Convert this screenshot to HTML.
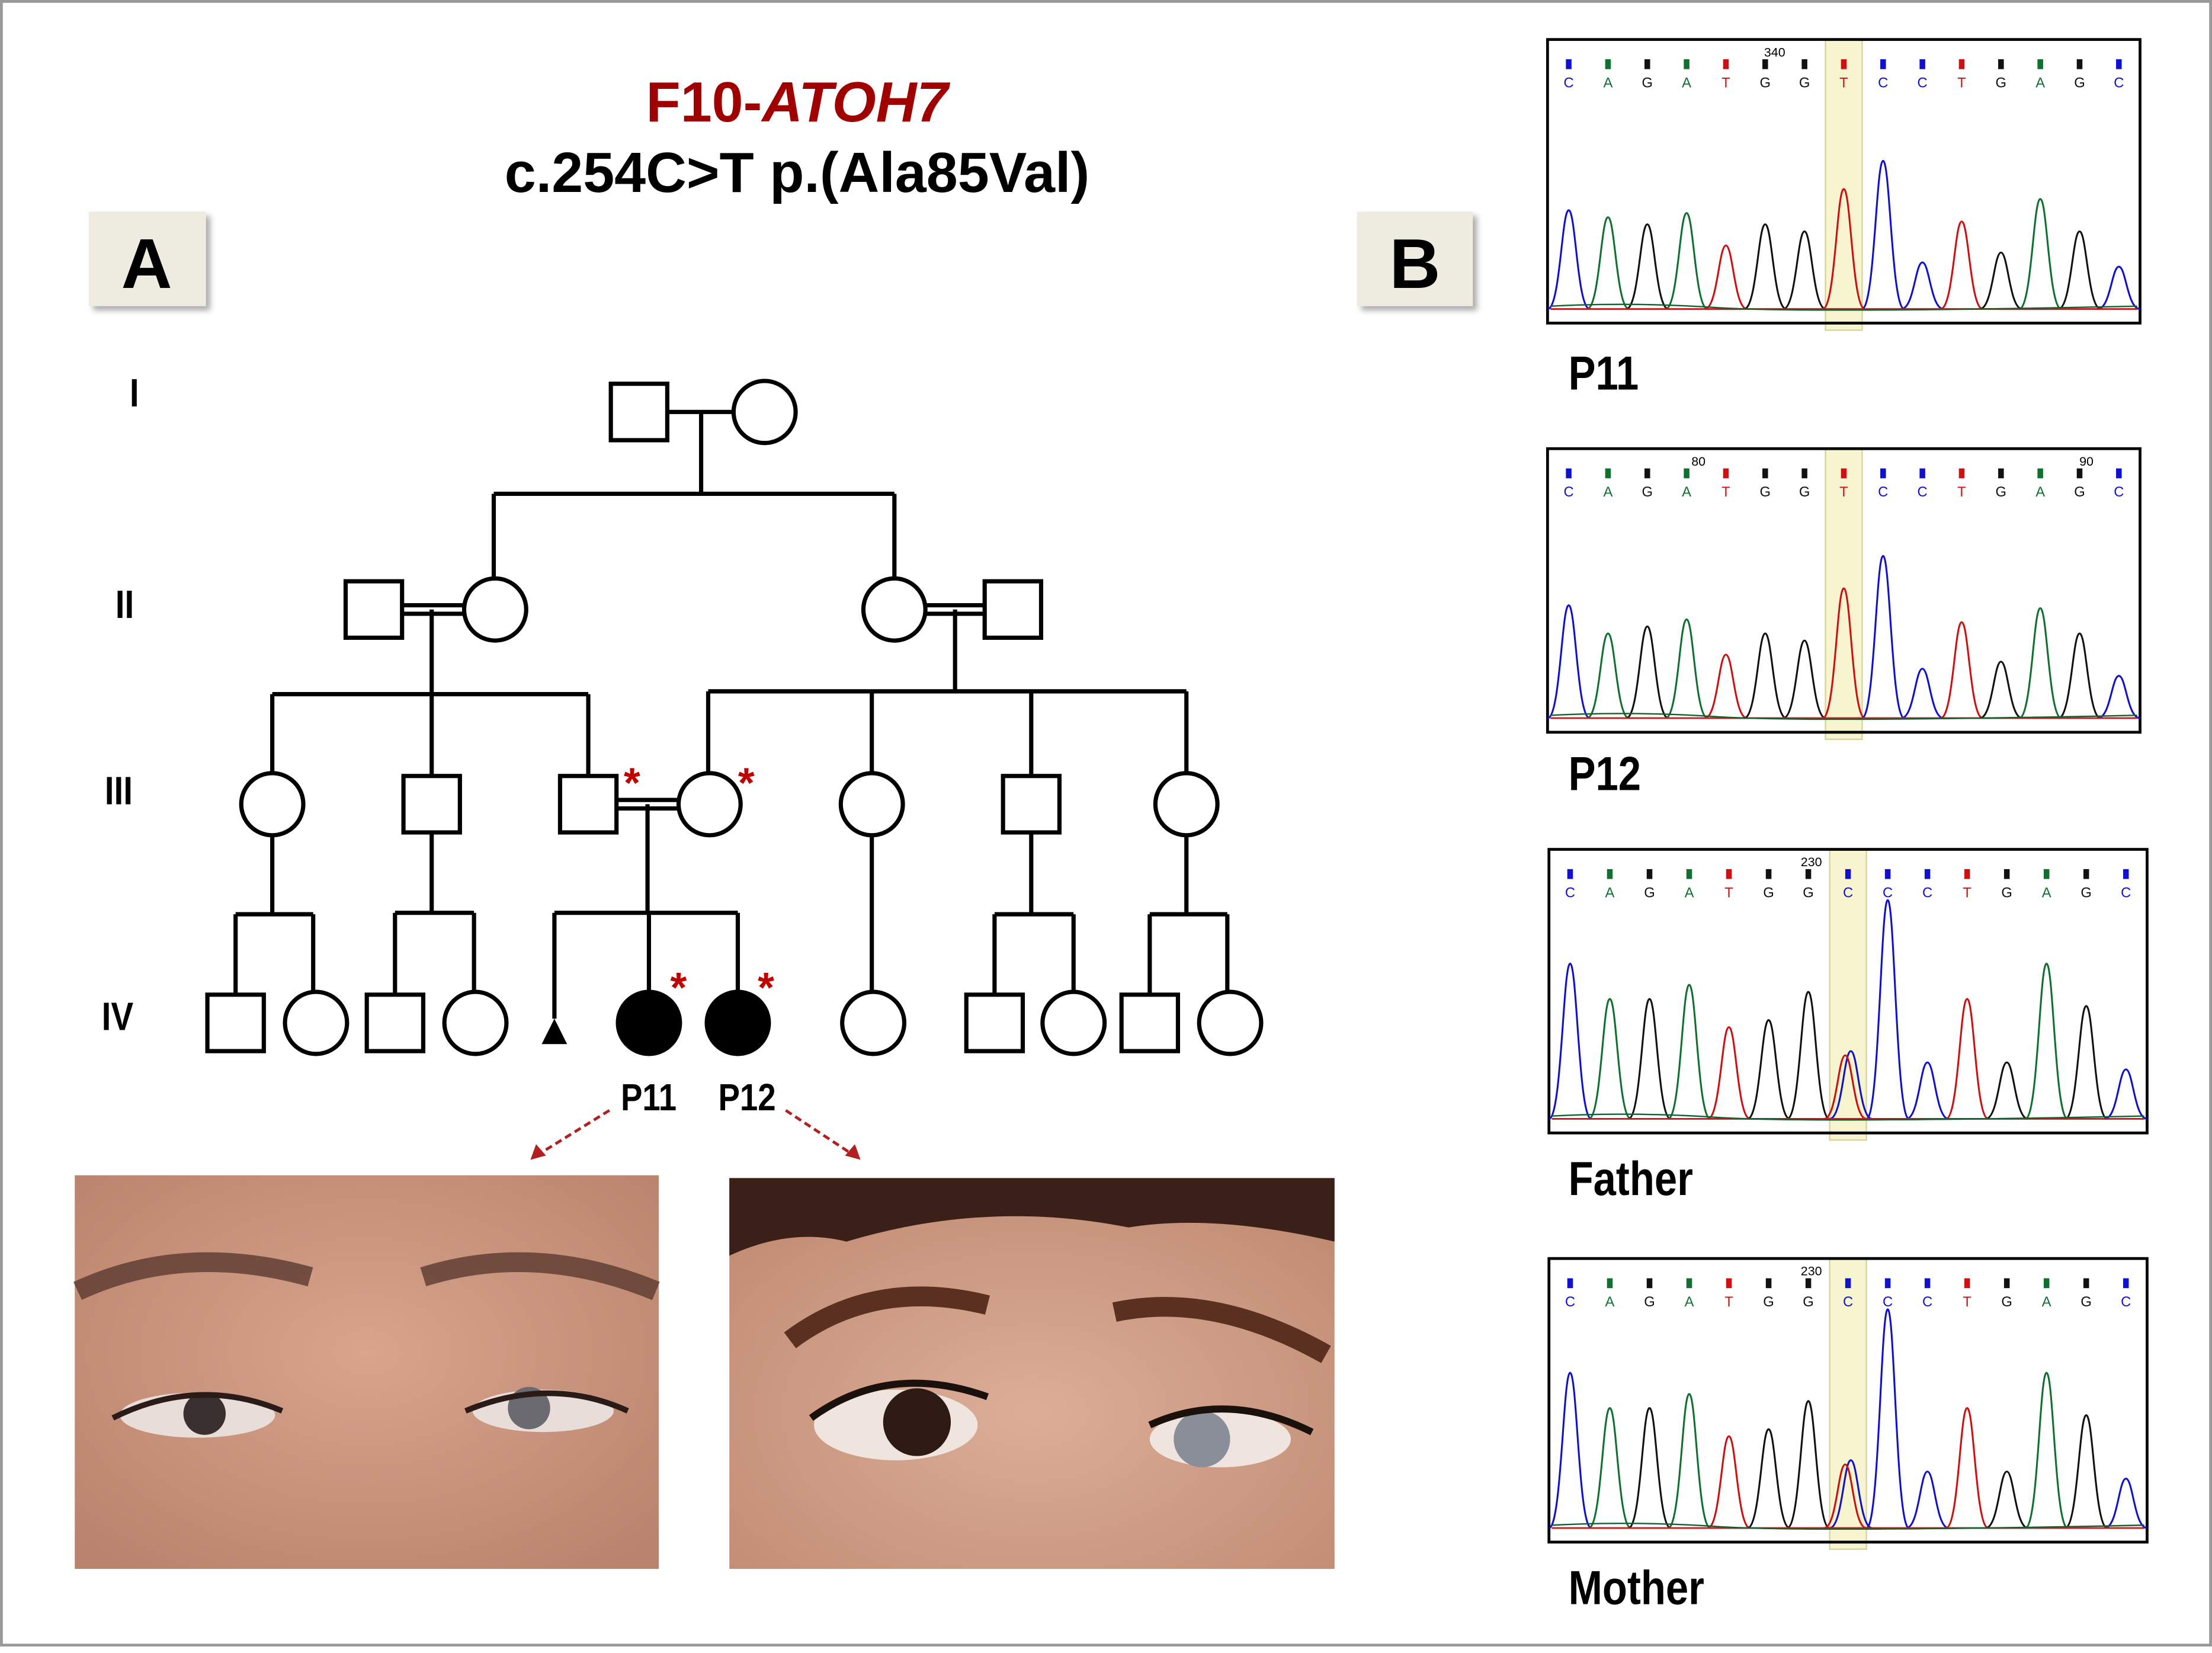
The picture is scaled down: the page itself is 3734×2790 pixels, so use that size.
<!DOCTYPE html>
<html><head><meta charset="utf-8">
<style>html,body{margin:0;padding:0;background:#fff}svg{display:block}</style></head>
<body>
<svg id="s" width="3734" height="2790" viewBox="0 0 1568 1171.6" xmlns="http://www.w3.org/2000/svg" font-family="'Liberation Sans', sans-serif">
<defs>
<filter id="sh" x="-20%" y="-20%" width="150%" height="150%"><feDropShadow dx="3" dy="3" stdDeviation="2" flood-color="#888" flood-opacity="0.7"/></filter>
<radialGradient id="sk1" cx="50%" cy="45%" r="70%"><stop offset="0" stop-color="#d8a48c"/><stop offset="1" stop-color="#b9826c"/></radialGradient>
<radialGradient id="sk2" cx="50%" cy="60%" r="70%"><stop offset="0" stop-color="#dcae98"/><stop offset="1" stop-color="#c08a72"/></radialGradient>
</defs>
<rect x="1" y="1" width="1566" height="1165" fill="#fff" stroke="#999" stroke-width="2"/>
<text x="565" y="86" text-anchor="middle" font-size="40" font-weight="bold" fill="#a00000">F10-<tspan font-style="italic">ATOH7</tspan></text>
<text x="565" y="136" text-anchor="middle" font-size="40" font-weight="bold" fill="#000">c.254C&gt;T  p.(Ala85Val)</text>
<rect x="63" y="150" width="83" height="67" fill="#eeece1" filter="url(#sh)"/>
<text x="104" y="204" text-anchor="middle" font-size="50" font-weight="bold">A</text>
<rect x="962" y="150" width="82" height="67" fill="#eeece1" filter="url(#sh)"/>
<text x="1003" y="204" text-anchor="middle" font-size="50" font-weight="bold">B</text>
<g font-size="28" font-weight="bold" text-anchor="middle" transform="scale(0.85,1)">
<text x="112" y="288">I</text><text x="104" y="438">II</text><text x="99" y="570">III</text><text x="98" y="730">IV</text>
</g>
<g stroke="#000" stroke-width="3" fill="#fff">
<path d="M473 292H520M497 292V350M350 350H634M350 350V410M634 350V410" fill="none"/>
<path d="M285 429H329M285 435H329M656 429H698M656 435H698M306 432V492M193 492H417M677 432V490M502 490H841" fill="none"/>
<path d="M193 492V548M306 492V550M417 492V550M502 490V548M618 490V548M731 490V550M841 490V548" fill="none"/>
<path d="M437 567H481M437 573H481M459 570V647M393 647H523M393 647V722M460 647V703M523 647V703" fill="none"/>
<path d="M193 592V648M167 648H222M167 648V705M222 648V703M306 590V647M280 647H336M280 647V705M336 647V703M618 592V703M731 590V648M705 648H761M705 648V705M761 648V703M841 592V648M815 648H870M815 648V705M870 648V703" fill="none"/>
<rect x="433" y="272" width="40" height="40"/><circle cx="542" cy="292" r="22"/>
<rect x="245" y="412" width="40" height="40"/><circle cx="351" cy="432" r="22"/>
<circle cx="634" cy="432" r="22"/><rect x="698" y="412" width="40" height="40"/>
<circle cx="193" cy="570" r="22"/><rect x="286" y="550" width="40" height="40"/><rect x="397" y="550" width="40" height="40"/><circle cx="503" cy="570" r="22"/>
<circle cx="618" cy="570" r="22"/><rect x="711" y="550" width="40" height="40"/><circle cx="841" cy="570" r="22"/>
<rect x="147" y="705" width="40" height="40"/><circle cx="224" cy="725" r="22"/>
<rect x="260" y="705" width="40" height="40"/><circle cx="337" cy="725" r="22"/>
<circle cx="460" cy="725" r="22" fill="#000"/><circle cx="523" cy="725" r="22" fill="#000"/>
<circle cx="619" cy="725" r="22"/>
<rect x="685" y="705" width="40" height="40"/><circle cx="761" cy="725" r="22"/>
<rect x="795" y="705" width="40" height="40"/><circle cx="872" cy="725" r="22"/>
</g>
<path d="M393 722L402 740H384Z" fill="#000"/>
<g fill="#c00000" font-size="30" font-weight="bold" text-anchor="middle">
<text x="448" y="565">*</text><text x="529" y="565">*</text><text x="481" y="710">*</text><text x="543" y="710">*</text>
</g>
<g font-size="27" font-weight="bold" text-anchor="middle" transform="scale(0.85,1)">
<text x="541" y="787">P11</text><text x="623" y="787">P12</text>
</g>
<g stroke="#b02020" stroke-width="2" stroke-dasharray="5,3" fill="none">
<path d="M432 787L382 818"/><path d="M557 787L604 818"/>
</g>
<path d="M376 822L380 811L387 819Z M610 822L599 819L606 811Z" fill="#b02020"/>
<rect x="53" y="833" width="414" height="279" fill="url(#sk1)"/>
<path d="M55 915Q130 880 220 905M300 905Q380 880 465 915" stroke="#5a3a30" stroke-width="14" fill="none" opacity="0.8"/>
<ellipse cx="140" cy="1003" rx="55" ry="16" fill="#e8ddd8"/><circle cx="145" cy="1002" r="15" fill="#3a3030"/>
<ellipse cx="385" cy="1000" rx="50" ry="15" fill="#e8ddd8"/><circle cx="375" cy="998" r="15" fill="#6a6a70"/>
<path d="M80 1005Q140 975 200 1000M330 1000Q390 975 445 1000" stroke="#2a1a18" stroke-width="4" fill="none"/>
<rect x="517" y="835" width="429" height="277" fill="url(#sk2)"/>
<path d="M517 835H946V880Q860 860 800 870Q700 850 600 880Q560 870 517 890Z" fill="#3a2018"/>
<path d="M560 950Q620 905 700 925M790 930Q860 915 940 960" stroke="#5a3020" stroke-width="14" fill="none"/>
<ellipse cx="635" cy="1010" rx="58" ry="25" fill="#efe4de"/><circle cx="650" cy="1008" r="24" fill="#2e1a14"/>
<ellipse cx="865" cy="1020" rx="50" ry="20" fill="#efe4de"/><circle cx="852" cy="1020" r="20" fill="#8a8e98"/>
<path d="M575 1005Q630 965 700 990M815 1010Q870 985 930 1015" stroke="#1a100c" stroke-width="5" fill="none"/>
<g id="chrom"></g>
<g font-size="34" font-weight="bold" transform="scale(0.85,1)">
<text x="1308" y="276">P11</text><text x="1308" y="560">P12</text><text x="1308" y="847">Father</text><text x="1308" y="1137">Mother</text>
</g>
</svg>
<script>
var NS="http://www.w3.org/2000/svg",g=document.getElementById("chrom");
var seq="CAGATGGTCCTGAGC",col={C:"#1010d0",A:"#107030",G:"#111",T:"#d01010"};
var panels=[
 {x:1097,y:28,w:420,num:"340",nx:1258,m:"T",h:[70,65,60,68,45,60,55,85,105,33,62,40,78,55,30]},
 {x:1097,y:318,w:420,num:"80",nx:1204,num2:"90",nx2:1479,m:"T",h:[80,60,65,70,45,60,55,92,115,35,68,40,78,60,30]},
 {x:1098,y:602,w:424,num:"230",nx:1284,m:"C",h:[110,85,85,95,65,70,90,0,155,40,85,40,110,80,35]},
 {x:1098,y:892,w:424,num:"230",nx:1284,m:"C",h:[110,85,85,95,65,70,90,0,155,40,85,40,110,80,35]}];
function el(t,a,p){var e=document.createElementNS(NS,t);for(var k in a)e.setAttribute(k,a[k]);(p||g).appendChild(e);return e;}
panels.forEach(function(P){
 var H=201,base=P.y+H-10,step=(P.w-30)/14;
 var hx=P.x+15+7*step;
 el("rect",{x:hx-13,y:P.y,width:26,height:H+5,fill:"#f7f5d0",stroke:"#d8d4a0","stroke-width":1});
 el("rect",{x:P.x,y:P.y,width:P.w,height:H,fill:"none",stroke:"#000","stroke-width":2});
 var t=el("text",{x:P.nx,y:P.y+12,"font-size":9,"text-anchor":"middle"});t.textContent=P.num;
 if(P.num2){t=el("text",{x:P.nx2,y:P.y+12,"font-size":9,"text-anchor":"middle"});t.textContent=P.num2;}
 var s=P.m=="T"?seq:seq.substr(0,7)+"C"+seq.substr(8);
 for(var i=0;i<15;i++){
  var x=P.x+15+i*step,c=s[i];
  el("rect",{x:x-2,y:P.y+14,width:4,height:7,fill:col[c]});
  t=el("text",{x:x,y:P.y+34,"font-size":10,"text-anchor":"middle",fill:col[c]});t.textContent=c;
  var hs=[[c,P.h[i]]];
  if(i==7&&P.m=="C")hs=[["C",48],["T",45]];
  hs.forEach(function(q){var h=q[1],d=i==7&&P.m=="C"?(q[0]=="C"?2:-2):0,xx=x+d;
   el("path",{d:"M"+(xx-15)+" "+base+"C"+(xx-6)+" "+base+" "+(xx-5)+" "+(base-h)+" "+xx+" "+(base-h)+"C"+(xx+5)+" "+(base-h)+" "+(xx+6)+" "+base+" "+(xx+15)+" "+base,fill:"none",stroke:col[q[0]],"stroke-width":1.3});});
 }
 el("path",{d:"M"+(P.x+2)+" "+base+"H"+(P.x+P.w-2),stroke:"#c02020","stroke-width":1.2});
 el("path",{d:"M"+(P.x+2)+" "+(base-2)+"Q"+(P.x+60)+" "+(base-5)+" "+(P.x+120)+" "+(base-1)+"T"+(P.x+P.w-2)+" "+(base-2),fill:"none",stroke:"#106030","stroke-width":1});
});
</script>
</body></html>
